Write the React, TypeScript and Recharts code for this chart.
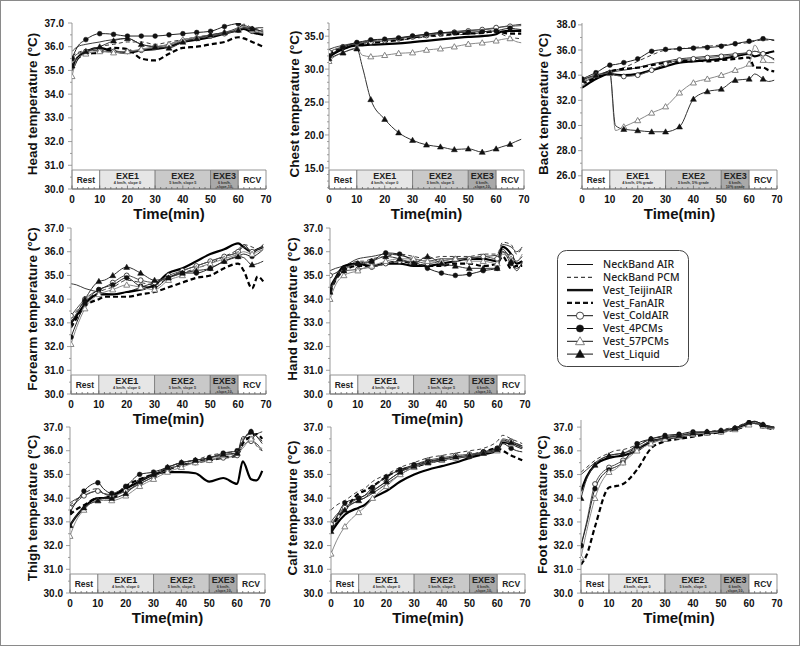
import React from 'react';
import { LineChart, Line, XAxis, YAxis, ReferenceArea } from 'recharts';

// ---------- shared axes / categories ----------
const TIME = [0, 2, 5, 10, 12, 15, 20, 25, 30, 35, 40, 45, 50, 55, 60, 62, 65, 67, 69];
const X_TICKS = [0, 2, 4, 6, 8, 10, 12, 14, 16, 18, 20, 22, 24, 26, 28, 30, 32, 34, 36, 38, 40, 42, 44, 46, 48, 50, 52, 54, 56, 58, 60, 62, 64, 66, 68, 70];
const SERIES_KEYS = ['na', 'np', 'tj', 'fa', 'ca', 'p4', 'p57', 'lq'];
const SERIES_NAMES = ['NeckBand AIR', 'NeckBand PCM', 'Vest_TeijinAIR', 'Vest_FanAIR', 'Vest_ColdAIR', 'Vest_4PCMs', 'Vest_57PCMs', 'Vest_Liquid'];
const PHASES = ['Rest', 'EXE1', 'EXE2', 'EXE3', 'RCV'];
const PHASE_START = [0, 10, 30, 50, 60];
const PHASE_END = [10, 30, 50, 60, 70];
const SUB_SLOPE = ['', '4 km/h, slope 0', '5 km/h, slope 5', '6 km/h,|slope 10', ''];
const SUB_GRADE = ['', '4 km/h, 0% grade', '5 km/h, 5% grade', '6 km/h,|10% grade', ''];

// ---------- Head ----------
const HEAD_NA = [35.8, 36.0, 36.1, 36.2, 36.25, 36.3, 36.35, 36.1, 36.0, 36.1, 36.3, 36.4, 36.5, 36.6, 36.8, 36.9, 36.75, 36.7, 36.6];
const HEAD_NP = [35.6, 35.75, 35.85, 36.0, 36.05, 36.1, 36.2, 36.2, 36.1, 36.2, 36.3, 36.4, 36.5, 36.6, 36.75, 36.95, 36.8, 36.75, 36.7];
const HEAD_TJ = [35.0, 35.5, 35.8, 35.95, 35.9, 35.8, 35.75, 35.85, 35.9, 36.0, 36.2, 36.3, 36.4, 36.55, 36.7, 36.75, 36.6, 36.55, 36.5];
const HEAD_FA = [35.2, 35.5, 35.7, 35.75, 35.85, 35.95, 35.9, 35.5, 35.42, 35.7, 35.95, 36.0, 36.1, 36.2, 36.4, 36.35, 36.2, 36.1, 36.0];
const HEAD_CA = [35.5, 35.7, 35.8, 35.85, 35.8, 35.8, 35.8, 35.85, 36.0, 36.05, 36.25, 36.35, 36.45, 36.55, 36.7, 36.8, 36.65, 36.6, 36.55];
const HEAD_P4 = [35.5, 36.0, 36.3, 36.55, 36.55, 36.52, 36.45, 36.45, 36.45, 36.5, 36.55, 36.6, 36.65, 36.85, 36.97, 36.85, 36.75, 36.7, 36.65];
const HEAD_P57 = [34.75, 35.5, 35.7, 35.8, 35.78, 35.75, 35.8, 35.9, 36.0, 36.1, 36.3, 36.4, 36.5, 36.6, 36.75, 36.85, 36.7, 36.65, 36.6];
const HEAD_LQ = [35.2, 35.6, 35.8, 36.0, 36.1, 36.25, 36.35, 36.1, 36.0, 35.95, 36.2, 36.35, 36.5, 36.6, 36.7, 36.8, 36.75, 36.8, 36.8];

// ---------- Chest ----------
const CHEST_NA = [33.0, 33.3, 33.6, 34.0, 34.1, 34.3, 34.5, 34.7, 35.0, 35.3, 35.5, 35.7, 35.9, 36.0, 36.2, 36.4, 36.6, 36.7, 36.8];
const CHEST_NP = [32.5, 32.9, 33.3, 33.8, 33.9, 34.0, 34.2, 34.4, 34.6, 34.9, 35.0, 35.2, 35.3, 35.5, 35.6, 35.3, 34.8, 34.7, 34.6];
const CHEST_TJ = [31.8, 32.4, 33.0, 33.6, 33.6, 33.7, 33.8, 33.9, 34.1, 34.3, 34.5, 34.7, 34.9, 35.0, 35.3, 35.7, 35.8, 35.8, 35.8];
const CHEST_FA = [32.2, 32.7, 33.1, 33.7, 33.8, 34.0, 34.2, 34.4, 34.8, 35.0, 35.2, 35.3, 35.4, 35.5, 35.8, 35.6, 35.4, 35.4, 35.4];
const CHEST_CA = [32.6, 33.0, 33.4, 33.9, 34.0, 34.1, 34.3, 34.6, 34.9, 35.1, 35.4, 35.6, 35.8, 36.0, 36.3, 36.4, 36.5, 36.55, 36.6];
const CHEST_P4 = [32.0, 32.6, 33.3, 34.05, 34.2, 34.45, 34.55, 34.75, 35.05, 35.3, 35.55, 35.55, 35.6, 35.7, 35.8, 36.0, 36.2, 36.1, 36.0];
const CHEST_P57 = [31.2, 31.9, 32.5, 33.2, 32.1, 31.9, 32.1, 32.4, 32.5, 32.9, 33.1, 33.4, 33.8, 34.0, 34.3, 34.5, 34.65, 34.2, 34.0];
const CHEST_LQ = [31.6, 32.0, 32.5, 33.1, 30.3, 25.4, 22.4, 20.35, 19.2, 18.5, 18.2, 17.8, 17.9, 17.4, 17.9, 18.2, 18.6, 19.0, 19.35];

// ---------- Back ----------
const BACK_NA = [33.4, 33.6, 33.9, 34.2, 34.3, 34.4, 34.6, 34.9, 35.1, 35.3, 35.4, 35.5, 35.6, 35.7, 35.8, 35.9, 35.7, 35.5, 35.3];
const BACK_NP = [33.5, 33.7, 34.0, 34.3, 34.4, 34.6, 35.1, 35.6, 36.0, 36.1, 36.2, 36.3, 36.4, 36.5, 36.6, 36.7, 36.8, 36.8, 36.75];
const BACK_TJ = [33.0, 33.3, 33.7, 34.1, 34.05, 34.0, 34.1, 34.4, 34.7, 35.0, 35.1, 35.2, 35.3, 35.5, 35.7, 35.5, 35.7, 35.8, 35.9];
const BACK_FA = [33.3, 33.5, 33.8, 34.3, 34.4, 34.5, 34.6, 34.8, 35.0, 35.1, 35.2, 35.1, 35.2, 35.3, 35.4, 34.6, 34.6, 34.4, 34.3];
const BACK_CA = [33.6, 33.8, 34.0, 34.2, 34.0, 33.9, 34.0, 34.4, 34.9, 35.2, 35.3, 35.4, 35.5, 35.6, 35.8, 35.9, 35.7, 35.5, 35.2];
const BACK_P4 = [33.7, 33.9, 34.2, 34.8, 34.85, 35.0, 35.3, 35.9, 36.05, 36.1, 36.15, 36.2, 36.3, 36.5, 36.7, 36.75, 36.9, 36.85, 36.8];
const BACK_P57 = [33.4, 33.7, 34.0, 34.15, 29.6, 29.9, 30.4, 31.0, 31.5, 32.6, 33.4, 33.7, 34.0, 34.4, 34.9, 36.4, 35.2, 35.0, 35.0];
const BACK_LQ = [33.6, 33.8, 34.0, 34.2, 30.0, 29.7, 29.6, 29.5, 29.5, 29.9, 32.1, 32.7, 32.9, 33.6, 33.7, 34.1, 33.7, 33.5, 33.6];

// ---------- Forearm ----------
const FORE_NA = [34.65, 34.6, 34.45, 34.3, 34.25, 34.2, 34.3, 34.5, 34.7, 34.9, 35.2, 35.4, 35.6, 35.8, 36.0, 36.3, 36.0, 36.1, 36.3];
const FORE_NP = [33.2, 33.5, 33.9, 34.3, 34.4, 34.5, 34.8, 34.7, 34.6, 34.9, 35.1, 35.3, 35.5, 35.8, 36.1, 36.3, 36.2, 36.1, 36.3];
const FORE_TJ = [33.0, 33.3, 33.8, 34.2, 34.2, 34.2, 34.3, 34.4, 34.6, 35.1, 35.3, 35.6, 35.9, 36.1, 36.35, 36.2, 36.0, 36.1, 36.2];
const FORE_FA = [32.8, 33.2, 33.7, 34.0, 34.1, 34.1, 34.1, 34.2, 34.3, 34.5, 34.7, 34.9, 35.0, 35.3, 35.5, 35.2, 34.45, 34.95, 34.75];
const FORE_CA = [33.3, 33.6, 34.0, 34.4, 34.5, 34.7, 35.0, 34.8, 34.7, 35.0, 35.2, 35.4, 35.6, 35.8, 36.0, 36.2, 36.0, 36.1, 36.2];
const FORE_P4 = [32.4, 33.0, 33.8, 34.4, 34.5, 34.6, 34.9, 34.55, 34.5, 34.9, 35.1, 35.1, 35.3, 35.6, 35.8, 35.9, 35.8, 35.9, 36.1];
const FORE_P57 = [32.1, 32.8, 33.6, 34.2, 34.3, 34.4, 34.6, 34.5, 34.4, 34.8, 35.0, 35.3, 35.5, 35.7, 35.9, 36.0, 35.9, 36.0, 36.1];
const FORE_LQ = [33.0, 33.4, 34.0, 34.75, 34.8, 35.0, 35.35, 35.1, 34.8, 34.9, 35.1, 35.2, 35.3, 35.6, 35.8, 35.75, 35.45, 35.5, 35.6];

// ---------- Hand ----------
const HAND_NA = [35.2, 35.3, 35.4, 35.7, 35.75, 35.8, 35.9, 35.85, 35.7, 35.6, 35.7, 35.7, 35.75, 35.8, 35.85, 36.3, 36.2, 36.0, 36.2];
const HAND_NP = [34.9, 35.1, 35.3, 35.6, 35.6, 35.7, 35.8, 35.9, 35.8, 35.7, 35.8, 35.8, 35.8, 35.9, 35.9, 36.4, 36.3, 35.9, 36.2];
const HAND_TJ = [34.5, 34.9, 35.4, 35.5, 35.45, 35.4, 35.5, 35.5, 35.4, 35.4, 35.5, 35.6, 35.7, 35.7, 35.6, 36.2, 35.9, 35.5, 35.6];
const HAND_FA = [34.3, 34.8, 35.2, 35.4, 35.4, 35.4, 35.5, 35.6, 35.5, 35.4, 35.4, 35.5, 35.5, 35.4, 35.5, 35.8, 35.3, 35.4, 35.4];
const HAND_CA = [35.0, 35.1, 35.2, 35.25, 35.3, 35.35, 35.5, 35.6, 35.6, 35.5, 35.6, 35.7, 35.7, 35.8, 35.7, 36.0, 35.8, 35.6, 35.8];
const HAND_P4 = [34.4, 34.9, 35.3, 35.5, 35.55, 35.6, 35.95, 35.9, 35.6, 35.3, 35.1, 35.0, 35.05, 35.2, 35.3, 36.0, 35.5, 35.3, 35.5];
const HAND_P57 = [34.0, 34.6, 35.0, 35.2, 35.3, 35.4, 35.6, 35.7, 35.7, 35.6, 35.6, 35.7, 35.6, 35.6, 35.5, 35.9, 35.7, 35.6, 35.9];
const HAND_LQ = [34.3, 34.8, 35.2, 35.5, 35.5, 35.6, 35.8, 35.7, 35.5, 35.8, 35.5, 35.4, 35.3, 35.3, 35.3, 36.1, 35.6, 35.2, 35.6];

// ---------- Thigh ----------
const THIGH_NA = [33.8, 33.95, 34.1, 34.3, 34.2, 34.15, 34.3, 34.6, 34.9, 35.2, 35.4, 35.5, 35.7, 35.8, 35.9, 36.6, 36.5, 36.7, 36.8];
const THIGH_NP = [33.7, 33.9, 34.2, 34.4, 34.2, 34.1, 34.4, 34.8, 35.0, 35.3, 35.5, 35.6, 35.8, 35.9, 36.0, 36.5, 36.7, 36.2, 36.0];
const THIGH_TJ = [32.85, 33.2, 33.6, 34.0, 34.0, 34.1, 34.4, 34.7, 35.0, 35.1, 35.1, 35.05, 34.7, 34.85, 34.6, 35.55, 34.8, 34.75, 35.15];
const THIGH_FA = [33.3, 33.5, 33.7, 34.0, 34.0, 34.0, 34.5, 34.8, 35.0, 35.2, 35.4, 35.5, 35.6, 35.7, 35.8, 36.3, 36.6, 36.7, 36.5];
const THIGH_CA = [33.6, 33.8, 34.1, 34.3, 34.2, 34.1, 34.3, 34.6, 34.9, 35.2, 35.4, 35.5, 35.6, 35.7, 35.8, 36.2, 36.4, 36.3, 36.0];
const THIGH_P4 = [33.4, 33.8, 34.3, 34.65, 34.4, 34.2, 34.5, 35.0, 35.1, 35.3, 35.5, 35.6, 35.7, 35.9, 36.0, 36.4, 36.8, 36.6, 36.4];
const THIGH_P57 = [32.4, 33.0, 33.5, 33.9, 33.9, 33.9, 34.1, 34.5, 34.8, 35.1, 35.3, 35.5, 35.6, 35.8, 35.9, 36.1, 36.5, 36.2, 36.1];
const THIGH_LQ = [32.85, 33.2, 33.6, 33.9, 34.0, 34.0, 34.2, 34.7, 35.0, 35.3, 35.5, 35.6, 35.7, 35.85, 35.9, 36.4, 36.8, 36.6, 36.3];

// ---------- Calf ----------
const CALF_NA = [33.0, 33.3, 33.6, 33.9, 34.0, 34.2, 34.6, 35.0, 35.3, 35.45, 35.6, 35.7, 35.8, 35.9, 36.05, 36.4, 36.3, 36.25, 36.2];
const CALF_NP = [33.5, 33.7, 33.9, 34.3, 34.4, 34.7, 35.0, 35.3, 35.5, 35.7, 35.8, 35.9, 36.0, 36.1, 36.4, 36.65, 36.5, 36.4, 36.3];
const CALF_TJ = [32.55, 32.9, 33.3, 33.6, 33.7, 34.0, 34.3, 34.7, 35.0, 35.2, 35.35, 35.5, 35.7, 35.85, 36.0, 36.35, 36.3, 36.2, 36.1];
const CALF_FA = [32.7, 33.1, 33.5, 34.2, 34.3, 34.5, 34.9, 35.2, 35.3, 35.5, 35.6, 35.7, 35.8, 35.95, 36.1, 36.0, 35.8, 35.7, 35.6];
const CALF_CA = [32.9, 33.2, 33.6, 34.0, 34.1, 34.3, 34.7, 35.1, 35.4, 35.6, 35.7, 35.8, 35.85, 35.95, 36.1, 36.5, 36.4, 36.3, 36.2];
const CALF_P4 = [32.75, 33.2, 33.8, 34.0, 34.1, 34.45, 34.9, 35.2, 35.4, 35.55, 35.65, 35.7, 35.75, 35.95, 36.1, 36.3, 36.1, 36.0, 35.95];
const CALF_P57 = [31.65, 32.2, 32.8, 33.4, 33.6, 34.0, 34.5, 35.0, 35.3, 35.5, 35.6, 35.7, 35.8, 35.9, 36.0, 36.4, 36.3, 36.2, 36.1];
const CALF_LQ = [32.6, 33.0, 33.5, 33.9, 34.0, 34.3, 34.7, 35.1, 35.35, 35.5, 35.65, 35.75, 35.8, 35.9, 36.05, 36.45, 36.35, 36.3, 36.2];

// ---------- Foot ----------
const FOOT_NA = [35.0, 35.2, 35.5, 35.8, 35.85, 35.9, 36.1, 36.4, 36.55, 36.6, 36.7, 36.75, 36.85, 36.95, 37.15, 37.2, 37.05, 37.0, 36.95];
const FOOT_NP = [35.1, 35.3, 35.6, 35.9, 36.0, 36.05, 36.25, 36.5, 36.6, 36.65, 36.75, 36.8, 36.9, 37.0, 37.2, 37.15, 37.1, 37.05, 37.0];
const FOOT_TJ = [34.3, 34.9, 35.4, 35.7, 35.75, 35.8, 36.0, 36.4, 36.5, 36.6, 36.7, 36.75, 36.8, 36.95, 37.15, 37.2, 37.1, 37.0, 36.95];
const FOOT_FA = [31.2, 31.6, 32.8, 34.45, 34.5, 34.6, 35.2, 36.1, 36.4, 36.5, 36.6, 36.7, 36.8, 36.9, 37.1, 37.2, 37.0, 36.95, 36.9];
const FOOT_CA = [32.0, 33.0, 34.6, 35.3, 35.4, 35.6, 36.1, 36.4, 36.5, 36.6, 36.7, 36.75, 36.8, 36.95, 37.15, 37.15, 37.05, 37.0, 37.0];
const FOOT_P4 = [32.0, 32.9, 34.4, 35.2, 35.3, 35.5, 36.3, 36.5, 36.65, 36.7, 36.8, 36.8, 36.85, 36.95, 37.2, 37.25, 37.1, 37.05, 37.0];
const FOOT_P57 = [31.5, 32.6, 34.0, 35.1, 35.2, 35.5, 36.0, 36.3, 36.5, 36.6, 36.7, 36.75, 36.8, 36.9, 37.1, 37.2, 37.05, 36.95, 36.95];
const FOOT_LQ = [34.0, 34.8, 35.4, 35.8, 35.85, 35.9, 36.2, 36.5, 36.6, 36.65, 36.75, 36.8, 36.85, 36.95, 37.2, 37.15, 37.1, 37.0, 37.0];

// ---------- styles ----------
const FONT = '"Liberation Sans", Arial, sans-serif';
const STYLE: Record<string, any> = {
  na: { stroke: '#3c3c3c', w: 1, dash: undefined, marker: null },
  np: { stroke: '#3c3c3c', w: 1, dash: '4 3', marker: null },
  tj: { stroke: '#000', w: 2.2, dash: undefined, marker: null },
  fa: { stroke: '#000', w: 2.2, dash: '5 3', marker: null },
  ca: { stroke: '#505050', w: 1, dash: undefined, marker: 'oc' },
  p4: { stroke: '#222', w: 1, dash: undefined, marker: 'fc' },
  p57: { stroke: '#8a8a8a', w: 1, dash: undefined, marker: 'ot' },
  lq: { stroke: '#333', w: 1, dash: undefined, marker: 'ft' },
};

function markerShape(kind: string, cx: number, cy: number, s: number, key?: string) {
  if (kind === 'oc') return <circle key={key} cx={cx} cy={cy} r={2.4 * s} fill="#fff" stroke="#333" strokeWidth={0.9} />;
  if (kind === 'fc') return <circle key={key} cx={cx} cy={cy} r={2.4 * s} fill="#111" stroke="#111" strokeWidth={0.5} />;
  const h = 3 * s;
  const pts = `${cx},${cy - h} ${cx - h},${cy + h * 0.75} ${cx + h},${cy + h * 0.75}`;
  if (kind === 'ot') return <polygon key={key} points={pts} fill="#fff" stroke="#777" strokeWidth={0.9} />;
  return <polygon key={key} points={pts} fill="#111" stroke="#111" strokeWidth={0.5} />;
}

function makeDot(kind: string | null) {
  return (props: any) => {
    const { cx, cy, payload, index } = props;
    const k = `d-${index}`;
    if (!kind || cx == null || cy == null || !payload || payload.t % 5 !== 0) return <g key={k} />;
    return markerShape(kind, cx, cy, 1, k);
  };
}

const PANELS = [
  { title: 'Head temperature (\u00B0C)', x0: 72, w: 194, top: 23, h: 166, domain: [30, 37], majors: [30, 31, 32, 33, 34, 35, 36, 37], minor: 0.5, labelDx: -40, tickGap: 8, sub: SUB_SLOPE,
    s: [HEAD_NA, HEAD_NP, HEAD_TJ, HEAD_FA, HEAD_CA, HEAD_P4, HEAD_P57, HEAD_LQ] },
  { title: 'Chest temperature (\u00B0C)', x0: 329, w: 195, top: 23, h: 166, domain: [11.8, 37], majors: [15, 20, 25, 30, 35], minor: 1, labelDx: -35, tickGap: 5, sub: SUB_SLOPE,
    s: [CHEST_NA, CHEST_NP, CHEST_TJ, CHEST_FA, CHEST_CA, CHEST_P4, CHEST_P57, CHEST_LQ] },
  { title: 'Back temperature (\u00B0C)', x0: 582, w: 195, top: 23, h: 166, domain: [24.95, 38.15], majors: [26, 28, 30, 32, 34, 36, 38], minor: 1, labelDx: -39, tickGap: 6, sub: SUB_GRADE,
    s: [BACK_NA, BACK_NP, BACK_TJ, BACK_FA, BACK_CA, BACK_P4, BACK_P57, BACK_LQ] },
  { title: 'Forearm temperature (\u00B0C)', x0: 71, w: 195, top: 228, h: 166, domain: [30, 37], majors: [30, 31, 32, 33, 34, 35, 36, 37], minor: 0.5, labelDx: -39, tickGap: 7, sub: SUB_SLOPE,
    s: [FORE_NA, FORE_NP, FORE_TJ, FORE_FA, FORE_CA, FORE_P4, FORE_P57, FORE_LQ] },
  { title: 'Hand temperature (\u00B0C)', x0: 330, w: 195, top: 228, h: 166, domain: [30, 37], majors: [30, 31, 32, 33, 34, 35, 36, 37], minor: 0.5, labelDx: -38, tickGap: 7, sub: SUB_SLOPE,
    s: [HAND_NA, HAND_NP, HAND_TJ, HAND_FA, HAND_CA, HAND_P4, HAND_P57, HAND_LQ] },
  { title: 'Thigh temperature (\u00B0C)', x0: 70, w: 195, top: 427, h: 166, domain: [30, 37], majors: [30, 31, 32, 33, 34, 35, 36, 37], minor: 0.5, labelDx: -38, tickGap: 7, sub: SUB_SLOPE,
    s: [THIGH_NA, THIGH_NP, THIGH_TJ, THIGH_FA, THIGH_CA, THIGH_P4, THIGH_P57, THIGH_LQ] },
  { title: 'Calf temperature (\u00B0C)', x0: 331, w: 194, top: 427, h: 166, domain: [30, 37], majors: [30, 31, 32, 33, 34, 35, 36, 37], minor: 0.5, labelDx: -39, tickGap: 8, sub: SUB_SLOPE,
    s: [CALF_NA, CALF_NP, CALF_TJ, CALF_FA, CALF_CA, CALF_P4, CALF_P57, CALF_LQ] },
  { title: 'Foot temperature (\u00B0C)', x0: 581, w: 196, top: 419.9, h: 173.1, domain: [30, 37.3], majors: [30, 31, 32, 33, 34, 35, 36, 37], minor: 0.5, labelDx: -39, tickGap: 8, sub: SUB_SLOPE,
    s: [FOOT_NA, FOOT_NP, FOOT_TJ, FOOT_FA, FOOT_CA, FOOT_P4, FOOT_P57, FOOT_LQ] },
];

const BAND_PX = 19;
const PHASE_FILL = ['#ffffff', '#e6e6e6', '#c9c9c9', '#a9a9a9', '#ffffff'];
const ML = 60; // plot left inside chart
const MT = 10; // plot top inside chart

function Panel({ cfg }: { cfg: any }) {
  const data = TIME.map((t, i) => {
    const row: any = { t };
    SERIES_KEYS.forEach((k, j) => { row[k] = cfg.s[j][i]; });
    return row;
  });
  const [d0, d1] = cfg.domain;
  const yTicks: number[] = [];
  for (let v = Math.ceil(d0 / cfg.minor - 1e-9) * cfg.minor; v <= d1 + 1e-9; v += cfg.minor) yTicks.push(Math.round(v * 100) / 100);
  const bandTop = d0 + (BAND_PX / cfg.h) * (d1 - d0);
  const bandPixTop = MT + cfg.h - BAND_PX;
  const xPix = (v: number) => ML + (v / 70) * cfg.w;

  const YTick = (p: any) => {
    const { x, y, payload } = p;
    const v = payload.value;
    const major = cfg.majors.some((m: number) => Math.abs(m - v) < 1e-6);
    return (
      <g>
        <line x1={x - (major ? 4 : 2)} x2={x} y1={y} y2={y} stroke="#888" strokeWidth={0.8} />
        {major && (
          <text x={x - cfg.tickGap} y={y + 3.6} textAnchor="end" fontSize={10} fontWeight={700} fill="#111" fontFamily={FONT}>{v.toFixed(1)}</text>
        )}
      </g>
    );
  };
  const XTick = (p: any) => {
    const { x, y, payload } = p;
    const v = payload.value;
    const major = v % 10 === 0;
    return (
      <g>
        <line x1={x} x2={x} y1={y} y2={y - (major ? 3.5 : 2)} stroke="#666" strokeWidth={0.8} />
        {major && (
          <text x={x} y={y + 14} textAnchor="middle" fontSize={10} fontWeight={700} fill="#111" fontFamily={FONT}>{v}</text>
        )}
      </g>
    );
  };
  const YLabel = () => {
    const lx = ML + cfg.labelDx;
    const ly = MT + cfg.h / 2 - 2;
    return (
      <text x={lx} y={ly} transform={`rotate(-90 ${lx} ${ly})`} textAnchor="middle" dominantBaseline="central" fontSize={13.5} fontWeight={700} fill="#111" fontFamily={FONT}>{cfg.title}</text>
    );
  };
  const XLabel = () => (
    <text x={ML + cfg.w / 2} y={MT + cfg.h + 30} textAnchor="middle" fontSize={15} fontWeight={700} fill="#111" fontFamily={FONT}>Time(min)</text>
  );
  const bandLabel = (i: number) => () => {
    const cx = (xPix(PHASE_START[i]) + xPix(PHASE_END[i])) / 2;
    const sub = cfg.sub[i];
    if (!sub) {
      return (
        <text x={cx} y={bandPixTop + 12.5} textAnchor="middle" fontSize={8.5} fontWeight={700} fill="#222" fontFamily={FONT}>{PHASES[i]}</text>
      );
    }
    const lines = sub.split('|');
    return (
      <g>
        <text x={cx} y={bandPixTop + 8.5} textAnchor="middle" fontSize={9} fontWeight={700} fill="#222" fontFamily={FONT}>{PHASES[i]}</text>
        {lines.map((ln: string, j: number) => (
          <text key={j} x={cx} y={bandPixTop + 13.5 + j * 4} textAnchor="middle" fontSize={3.8} fontWeight={700} fill="#333" fontFamily={FONT}>{ln}</text>
        ))}
      </g>
    );
  };

  return (
    <div style={{ position: 'absolute', left: cfg.x0 - ML, top: cfg.top - MT }}>
      <LineChart width={cfg.w + ML + 10} height={cfg.h + MT + 46} data={data} margin={{ top: MT, right: 10, bottom: 16, left: 10 }}>
        <XAxis dataKey="t" type="number" domain={[0, 70]} ticks={X_TICKS} interval={0} tickSize={0} tickMargin={0} height={30}
          stroke="#777" tick={XTick} label={XLabel} allowDataOverflow />
        <YAxis type="number" domain={cfg.domain} ticks={yTicks} interval={0} width={50} tickSize={0} tickMargin={0}
          stroke="#999" tick={YTick} label={YLabel} allowDataOverflow />
        {PHASES.map((ph, i) => (
          <ReferenceArea key={ph} x1={PHASE_START[i]} x2={PHASE_END[i]} y1={d0} y2={bandTop} fill={PHASE_FILL[i]} fillOpacity={1}
            stroke="#7a7a7a" strokeWidth={0.8} label={bandLabel(i)} ifOverflow="visible" />
        ))}
        {SERIES_KEYS.map((k) => (
          <Line key={k} dataKey={k} type="monotone" stroke={STYLE[k].stroke} strokeWidth={STYLE[k].w} strokeDasharray={STYLE[k].dash}
            dot={makeDot(STYLE[k].marker)} activeDot={false} isAnimationActive={false} />
        ))}
      </LineChart>
    </div>
  );
}

function LegendBox() {
  const rowY = (i: number) => 14.5 + i * 12.8;
  return (
    <div style={{ position: 'absolute', left: 557, top: 250 }}>
      <svg width={133} height={118}>
        <rect x={0.5} y={0.5} width={131} height={116} rx={9} ry={9} fill="#fff" stroke="#444" strokeWidth={1} />
        {SERIES_KEYS.map((k, i) => {
          const st = STYLE[k];
          const y = rowY(i);
          return (
            <g key={k}>
              <line x1={10} x2={36} y1={y} y2={y} stroke="#111" strokeWidth={st.w > 1.5 ? 2.4 : 1} strokeDasharray={st.dash} />
              {st.marker && markerShape(st.marker, 23, y, 1.5)}
              <text x={46} y={y + 3.7} fontSize={10.5} fill="#222" fontFamily='"Noto Sans", "Open Sans", sans-serif' fontWeight={500}>{SERIES_NAMES[i]}</text>
            </g>
          );
        })}
      </svg>
    </div>
  );
}

export default function App() {
  return (
    <div style={{ position: 'absolute', left: 0, top: 0, width: 800, height: 646, background: '#fff', overflow: 'hidden' }}>
      {PANELS.map((cfg, i) => <Panel key={i} cfg={cfg} />)}
      <LegendBox />
      <div style={{ position: 'absolute', left: 0, top: 0, width: 800, height: 646, boxSizing: 'border-box', border: '1.5px solid #8a8a8a', pointerEvents: 'none' }} />
    </div>
  );
}
